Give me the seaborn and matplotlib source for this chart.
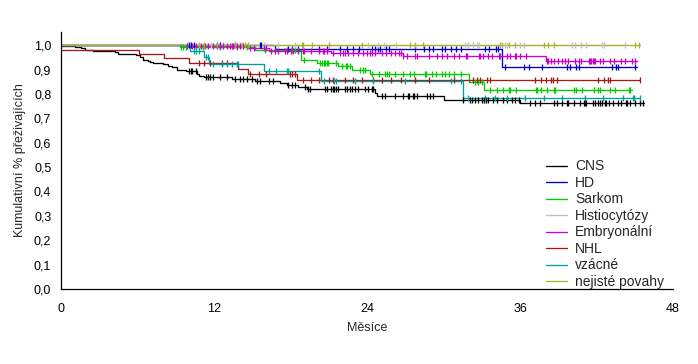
import numpy as np
import pandas as pd
import matplotlib
matplotlib.use("Agg")
import matplotlib.pyplot as plt
from matplotlib.lines import Line2D
import seaborn as sns

groups = ["CNS", "HD", "Sarkom", "Histiocytózy", "Embryonální", "NHL", "vzácné", "nejisté povahy"]
colors = ["#000000", "#0000cc", "#00cc00", "#c0c0c0", "#cc00cc", "#a31c1c", "#009e9e", "#b0b030"]

# step times / survival levels / last follow-up / censor times for each group
cns_t = [0, 1.1, 1.57, 1.9, 2.5, 4.2, 4.5, 5.9, 6.2, 6.4, 6.8, 7.0, 7.2, 8.0, 8.4, 8.7, 9.1, 9.8, 10.7, 10.85, 11.2, 13.4, 15.2, 17.2, 17.7, 18.6, 19.3, 24.6, 24.75, 30.05, 36.0]
cns_s = [0.997, 0.993, 0.99, 0.978, 0.974, 0.97, 0.962, 0.958, 0.95, 0.941, 0.936, 0.932, 0.928, 0.921, 0.916, 0.909, 0.899, 0.892, 0.881, 0.874, 0.868, 0.86, 0.854, 0.844, 0.837, 0.827, 0.82, 0.803, 0.79, 0.777, 0.762]
cns_end = 45.7
cns_c = [10.0, 10.2, 10.3, 10.6, 11.4, 11.55, 11.7, 11.95, 12.5, 13.0, 13.65, 14.0, 14.3, 14.6, 14.95, 15.4, 15.6, 16.3, 16.65,
         17.8, 18.1, 18.35, 19.1, 19.4, 19.5, 20.7, 20.85, 21.2, 21.3, 21.4, 21.6, 21.7, 22.3, 22.4, 22.7, 22.8, 23.05, 23.3,
         23.85, 24.1, 24.4, 24.5, 25.15, 25.4, 26.2, 26.85, 27.2, 27.3, 27.6, 27.7, 27.9, 28.7, 28.95, 29.2, 31.5, 32.1, 32.2,
         32.5, 32.7, 33.0, 33.2, 33.3, 33.5, 33.9, 34.2, 34.7, 34.95, 35.35, 35.6, 35.9, 36.8, 37.2, 37.55, 38.7, 38.9, 39.3,
         39.65, 39.75, 40.2, 40.7, 41.0, 41.1, 41.15, 41.75, 41.9, 42.1, 42.3, 42.4, 42.65, 42.75, 42.95, 43.3, 43.7, 43.95,
         44.3, 44.4, 44.6, 45.0, 45.4, 45.65]

hd_t = [0, 16.8, 34.6]
hd_s = [1.0, 0.983, 0.909]
hd_end = 45.15
hd_c = [10.0, 10.2, 10.4, 12.2, 12.5, 13.65, 15.6, 15.7, 17.8, 18.1, 18.6, 20.2, 20.9, 21.9, 22.4, 22.9, 23.4, 24.4, 24.6,
        24.9, 25.0, 25.5, 25.7, 27.8, 28.5, 28.9, 29.15, 29.9, 30.1, 30.6, 31.0, 31.4, 33.25, 33.6, 34.15, 34.25, 34.8, 36.3,
        36.7, 37.75, 39.7, 39.9, 40.4, 40.6, 43.2, 43.5, 43.7, 45.0]

sar_t = [0, 9.3, 15.2, 18.8, 20.1, 21.75, 22.8, 24.2, 32.0, 33.2]
sar_s = [1.0, 0.992, 0.981, 0.94, 0.926, 0.913, 0.896, 0.881, 0.847, 0.814]
sar_end = 44.75
sar_c = [9.4, 9.6, 9.8, 10.8, 11.1, 12.5, 13.8, 14.6, 16.0, 17.7, 18.1, 18.35, 18.6, 19.05, 20.3, 20.45, 20.6, 20.7, 20.85,
         20.95, 21.6, 22.0, 22.35, 22.45, 22.7, 23.45, 23.65, 23.85, 24.4, 24.95, 25.4, 25.6, 25.7, 26.2, 26.85, 27.4, 27.65,
         28.55, 28.65, 29.1, 29.45, 29.85, 30.1, 30.4, 30.8, 31.4, 32.5, 32.7, 33.05, 33.65, 34.2, 34.7, 35.15, 35.25, 35.7,
         37.25, 37.35, 37.65, 38.1, 38.65, 38.75, 40.2, 40.4, 40.9, 41.8, 42.1, 42.3, 43.05, 43.45, 44.55, 44.65]

his_t = [0]
his_s = [1.0]
his_end = 44.2
his_c = [9.9, 11.8, 12.7, 14.0, 15.9, 17.0, 18.35, 24.1, 24.9, 25.3, 26.3, 31.7, 31.9, 32.3, 32.65, 32.8, 34.8, 35.0, 36.0,
         36.3, 40.05, 40.3, 40.8, 41.2, 42.4, 42.6, 44.2]

emb_t = [0, 9.3, 14.55, 16.3, 21.2, 26.8, 38.0]
emb_s = [1.0, 0.996, 0.99, 0.975, 0.966, 0.955, 0.933]
emb_end = 45.15
emb_c = [9.9, 10.25, 10.6, 11.0, 11.3, 11.55, 11.95, 12.2, 12.5, 12.7, 13.0, 13.25, 13.4, 13.5, 13.8, 14.0, 14.3, 14.8, 15.1,
         15.9, 16.1, 16.5, 16.8, 17.05, 17.6, 17.7, 18.0, 18.2, 18.55, 18.95, 19.05, 19.6, 20.2, 20.55, 20.65, 20.9, 21.35,
         21.9, 22.15, 22.25, 22.5, 22.9, 23.3, 23.7, 24.0, 24.2, 24.4, 24.6, 25.2, 25.5, 25.9, 26.2, 26.5, 26.7, 26.85, 27.15,
         27.75, 27.95, 28.9, 29.5, 29.85, 30.25, 30.8, 31.25, 31.75, 31.85, 32.75, 32.9, 33.1, 33.5, 33.8, 34.35, 34.45,
         34.95, 35.2, 35.6, 35.7, 36.0, 36.45, 38.1, 38.2, 38.4, 38.7, 39.0, 39.3, 39.5, 39.8, 40.3, 40.6, 40.8, 41.4, 41.5,
         41.6, 41.7, 41.8, 41.9, 42.3, 42.5, 43.05, 43.4, 43.9, 44.2, 44.8, 45.0]

nhl_t = [0, 6.1, 8.1, 10.0, 13.9, 14.7, 18.5]
nhl_s = [0.982, 0.962, 0.946, 0.925, 0.904, 0.883, 0.855]
nhl_end = 45.4
nhl_c = [10.8, 11.2, 11.7, 12.6, 13.0, 14.8, 15.5, 16.1, 17.95, 18.1, 18.35, 19.0, 19.6, 20.2, 21.0, 21.35, 22.3, 22.9, 23.6,
         24.5, 25.15, 25.9, 26.7, 27.75, 28.9, 30.8, 32.3, 32.6, 32.9, 33.4, 33.65, 37.2, 37.65, 38.0, 38.45, 38.55, 38.9,
         42.1, 42.55, 42.9, 43.05, 45.4]

vz_t = [0, 10.1, 11.2, 11.6, 15.95, 20.4, 31.55]
vz_s = [1.0, 0.977, 0.951, 0.922, 0.892, 0.854, 0.782]
vz_end = 45.4
vz_c = [10.4, 10.6, 10.85, 11.35, 11.5, 11.95, 12.6, 13.0, 13.4, 13.8, 13.9, 16.3, 16.9, 17.7, 17.8, 20.2, 20.6, 21.45,
        21.55, 23.05, 24.5, 27.0, 30.6, 31.4, 31.95, 33.25, 34.0, 35.0, 36.4, 37.9, 39.3, 41.1, 42.5, 44.1, 44.85, 44.95, 45.4]

nej_t = [0]
nej_s = [1.0]
nej_end = 45.4
nej_c = [10.8, 11.2, 12.2, 13.65, 14.2, 14.4, 14.7, 18.9, 19.0, 19.7, 21.0, 23.6, 27.4, 27.8, 28.4, 34.4, 34.6, 35.1, 35.6,
         37.9, 38.2, 38.7, 45.0, 45.3]

curves = {
    "CNS": (cns_t, cns_s, cns_end, cns_c),
    "HD": (hd_t, hd_s, hd_end, hd_c),
    "Sarkom": (sar_t, sar_s, sar_end, sar_c),
    "Histiocytózy": (his_t, his_s, his_end, his_c),
    "Embryonální": (emb_t, emb_s, emb_end, emb_c),
    "NHL": (nhl_t, nhl_s, nhl_end, nhl_c),
    "vzácné": (vz_t, vz_s, vz_end, vz_c),
    "nejisté povahy": (nej_t, nej_s, nej_end, nej_c),
}

line_rows, cens_rows = [], []
for g, (tt, ss, end, cc) in curves.items():
    for t, s in zip(tt, ss):
        line_rows.append((g, t, s))
    line_rows.append((g, end, ss[-1]))
    tt_a = np.asarray(tt)
    for c in cc:
        idx = np.searchsorted(tt_a, c, side="right") - 1
        cens_rows.append((g, c, ss[idx]))
lines = pd.DataFrame(line_rows, columns=["group", "t", "s"])
cens = pd.DataFrame(cens_rows, columns=["group", "t", "s"])

sns.set_theme(style="white")
plt.rcParams["font.family"] = ["Liberation Sans", "DejaVu Sans"]

fig = plt.figure(figsize=(6.98, 3.64), dpi=100)
ax = fig.add_axes([61 / 698, 1 - 289 / 364, 612 / 698, (289 - 31.7) / 364])
pal = dict(zip(groups, colors))

for g in groups:
    sns.lineplot(data=lines[lines.group == g], x="t", y="s", color=pal[g], drawstyle="steps-post",
                 estimator=None, sort=False, linewidth=0.95, ax=ax, legend=False)
    sub = cens[cens.group == g]
    ax.scatter(sub.t, sub.s, marker="|", s=24, linewidths=0.95, color=pal[g], zorder=3)

ax.set_xlim(0, 48)
ax.set_ylim(0, 1.055)
xt = [0, 12, 24, 36, 48]
yt = [0.0, 0.1, 0.2, 0.3, 0.4, 0.5, 0.6, 0.7, 0.8, 0.9, 1.0]
ax.set_xticks(xt)
ax.set_xticklabels([str(v) for v in xt])
ax.set_yticks(yt)
ax.set_yticklabels([f"{v:.1f}".replace(".", ",") for v in yt])
ax.tick_params(direction="in", length=3, width=0.8, colors="black", labelsize=9)
ax.tick_params(axis="x", pad=10)
ax.tick_params(axis="y", pad=7)
for sp in ["top", "right"]:
    ax.spines[sp].set_visible(False)
for sp in ["left", "bottom"]:
    ax.spines[sp].set_color("black")
    ax.spines[sp].set_linewidth(0.9)
ax.set_xlabel("Měsíce", fontsize=9, labelpad=5)
ax.set_ylabel("Kumulativní % přeživajících", fontsize=9, labelpad=6)

handles = [Line2D([0], [0], color=pal[g], lw=0.95) for g in groups]
ax.legend(handles, groups, loc="upper left", bbox_to_anchor=(0.783, 0.525), frameon=False, fontsize=10,
          handlelength=1.5, handletextpad=0.6, labelspacing=0.18, borderaxespad=0)

fig.savefig("out.png", dpi=100)
